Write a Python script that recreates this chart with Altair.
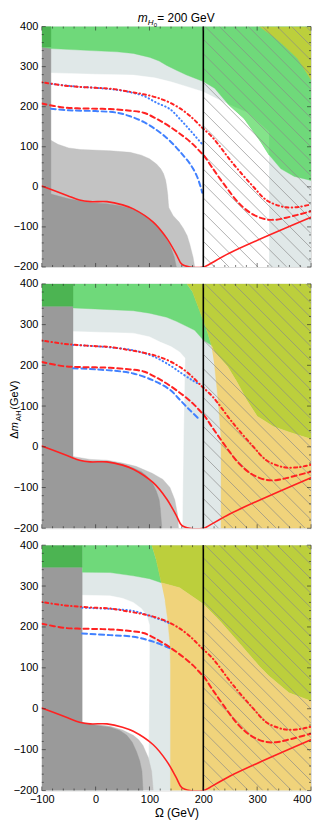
import altair as alt
import pandas as pd

# ---------------- data ----------------
X_DOMAIN = [-100, 400]
Y_DOMAIN = [-200, 400]
X_LABELS = [-100, 0, 100, 200, 300, 400]
Y_LABELS = [-200, -100, 0, 100, 200, 300, 400]

# region polygons (Omega, Delta m) per panel, painted in order
P1_LBG = [(-100, -200), (400, -200), (400, 400), (-100, 400)]
P1_WHITE = [(-100, 285), (-50, 283), (0, 281), (70, 279), (110, 272), (140, 262), (170, 250), (200, 237),
            (240, 210), (283, 185), (322, 137), (322, -200), (-100, -200)]
P1_LG = [(-100, 118), (-83, 116), (-70, 106), (-50, 97), (-28, 93), (27, 90), (64, 86), (85, 79), (100, 70),
         (113, 57), (121, 45), (126, 33), (130, 17), (132, 1), (134, -20), (135, -40), (136, -52), (144, -72),
         (155, -88), (163, -104), (170, -122), (175, -144), (181, -176), (184, -200), (-100, -200)]
P1_DG = [(-100, 349), (-83, 349), (-83, -18), (-50, -30), (-10, -40), (20, -42), (45, -47), (60, -52),
         (78, -60), (90, -70), (110, -92), (125, -115), (138, -145), (146, -175), (150, -200), (-100, -200)]
P1_GREEN = [(-100, 349), (-83, 345), (-9, 340), (40, 337), (70, 333), (101, 323), (118, 314), (132, 303),
            (150, 291), (169, 279), (200, 263), (221, 246), (245, 208), (276, 170), (307, 112), (322, 80),
            (344, 45), (369, 26), (400, 16), (400, 400), (-100, 400)]
P1_DKGREEN = [(-100, 349), (-83, 349), (-83, 400), (-100, 400)]
P1_LTGREEN = [(245, 207), (283, 185), (322, 137), (322, 80), (307, 112), (276, 170)]
P1_YGREEN = [(304, 400), (330, 375), (347, 356), (375, 320), (400, 267), (400, 400)]

P2_WHITE = [(-100, 283), (-42, 283), (70, 279), (100, 270), (120, 257), (140, 246), (156, 233), (166, 218),
            (163, 0), (161, -200), (-100, -200)]
P2_LG = [(-100, -200), (-100, 5), (-42, -24), (-10, -31), (21, -33), (50, -40), (75, -48), (105, -65),
         (125, -80), (138, -100), (147, -130), (152, -165), (154, -200)]
P2_DG = [(-100, 345), (-42, 345), (-42, -30), (-16, -36), (27, -37), (50, -43), (70, -52), (85, -61),
         (95, -72), (106, -90), (113, -110), (118, -130), (120, -151), (123, -200), (-100, -200)]
P2_DKGREEN = [(-100, 345), (-42, 345), (-42, 400), (-100, 400)]
P2_GREEN = [(-42, 400), (169, 400), (180, 380), (190, 345), (200, 310), (208, 280), (215, 249), (200, 262),
            (184, 286), (169, 296), (150, 308), (132, 318), (100, 328), (70, 334), (-42, 341)]
P2_YGREEN = [(169, 400), (400, 400), (400, 19), (360, 36), (330, 50), (300, 75), (280, 116), (262, 160),
             (245, 197), (221, 233), (215, 249), (208, 280), (200, 310), (190, 345), (180, 380)]
P2_ORANGE = [(215, 249), (221, 233), (245, 197), (262, 160), (280, 116), (300, 75), (330, 50), (360, 36),
             (400, 19), (400, -200), (233, -200), (233, 20), (229, 91), (225, 148), (221, 197)]

P3_WHITE = [(-100, 280), (27, 276), (50, 270), (70, 260), (85, 245), (95, 228), (100, 205), (100, 150),
            (98, -200), (-100, -200)]
P3_LG = [(-100, -200), (-100, 0), (-25, -36), (0, -38), (27, -43), (50, -52), (70, -65), (80, -76),
         (88, -90), (98, -120), (104, -153), (107, -200)]
P3_DG = [(-100, 346), (-25, 346), (-25, -33), (3, -41), (27, -45), (45, -53), (58, -65), (68, -82),
         (76, -105), (82, -128), (86, -153), (88, -200), (-100, -200)]
P3_DKGREEN = [(-100, 346), (-25, 346), (-25, 400), (-100, 400)]
P3_GREEN = [(-25, 400), (104, 400), (113, 361), (122, 308), (100, 318), (70, 325), (27, 333), (-25, 334)]
P3_YGREEN = [(104, 400), (400, 400), (400, 19), (359, 39), (322, 80), (304, 104), (267, 160), (230, 216),
             (200, 256), (156, 296), (122, 308), (113, 361)]
P3_ORANGE = [(122, 308), (156, 296), (200, 256), (230, 216), (267, 160), (304, 104), (322, 80), (359, 39),
             (400, 19), (400, -200), (139, -200), (139, 104), (138, 160), (134, 216), (129, 264)]

# curves
RED_DOT_X = [-100, -60, -34, 0, 27, 64, 89, 113, 138, 163, 181, 196, 200, 218, 254, 291, 317, 340, 354, 378, 400]
RED_DOT_Y = [261, 253, 250, 247, 245, 237, 231, 223, 210, 190, 170, 150, 145, 122, 60, 3, -33, -47, -51, -50, -44]
RED_DASH_X = [-100, -60, -34, 0, 27, 64, 89, 113, 138, 163, 181, 196, 200, 218, 242, 267, 291, 316, 335, 354, 400]
RED_DASH_Y = [208, 198, 196, 195, 194, 190, 185, 170, 150, 126, 106, 85, 80, 45, 0, -42, -68, -81, -82, -77, -61]
RED_SOLID_X = [-100, -80, -52, -30, -10, 21, 50, 70, 107, 132, 150, 160, 175, 200, 206, 249, 400]
RED_SOLID_Y = [2, -8, -22, -33, -37, -37, -45, -55, -88, -128, -169, -193, -200, -200, -197, -165, -76]

P1_BLUE_DOT_X = [-83, -34, 0, 40, 64, 89, 113, 138, 156, 175, 193, 197]
P1_BLUE_DOT_Y = [257, 250, 247, 242, 236, 227, 210, 194, 170, 142, 114, 108]
P1_BLUE_DASH_X = [-83, -50, 0, 40, 64, 89, 113, 132, 150, 163, 175, 187, 195, 198]
P1_BLUE_DASH_Y = [195, 191, 189, 185, 176, 162, 142, 122, 98, 78, 58, 30, 0, -15]
P2_BLUE_DOT_X = [-42, 0, 27, 70, 107, 138, 160, 180, 193]
P2_BLUE_DOT_Y = [250, 247, 244, 237, 222, 200, 180, 163, 153]
P2_BLUE_DASH_X = [-42, 0, 40, 70, 107, 138, 156, 175, 193]
P2_BLUE_DASH_Y = [193, 190, 186, 180, 163, 140, 116, 90, 67]
P3_BLUE_DOT_X = [-25, 27, 70, 107, 132, 138]
P3_BLUE_DOT_Y = [247, 244, 239, 224, 212, 208]
P3_BLUE_DASH_X = [-25, 27, 70, 107, 138]
P3_BLUE_DASH_Y = [184, 180, 176, 164, 148]

VLINE_X = [200]

# ---------------- styling ----------------
W = 271
HEIGHTS = [242, 246, 247]
FONT = "Liberation Sans"
C = dict(lbg="#e0e8e8", white="#ffffff", lg="#c3c3c3", dg="#9a9a9a", green="#6fd97a",
         dkgreen="#4cb452", ltgreen="#84e38a", ygreen="#bccf3c", orange="#f0d37b")
RED = "#ff2222"
BLUE = "#4181ff"


def xenc(**kw):
    return alt.X("x:Q", scale=alt.Scale(domain=X_DOMAIN, nice=False, zero=False), title=None, **kw)


def yenc():
    return alt.Y("y:Q", scale=alt.Scale(domain=Y_DOMAIN, nice=False, zero=False), title=None,
                 axis=alt.Axis(values=Y_LABELS, ticks=False, domain=False, grid=False, labelFont=FONT,
                               labelFontSize=11, labelColor="black", labelPadding=4, format="d"))


def xaxis(show):
    if show:
        return alt.Axis(values=X_LABELS, ticks=False, domain=False, grid=False, labelFont=FONT,
                        labelFontSize=11, labelColor="black", labelPadding=3, format="d",
                        labelAlign=alt.condition("datum.value == 400", alt.value("right"), alt.value("center")),
                        title="Ω (GeV)", titleFont=FONT, titleFontSize=12, titleFontWeight="normal",
                        titleColor="black", titlePadding=3)
    return None


def poly(pts, color, show):
    df = pd.DataFrame({"x": [p[0] for p in pts], "y": [p[1] for p in pts], "o": list(range(len(pts)))})
    return alt.Chart(df).mark_line(filled=True, fill=color, stroke=color, strokeWidth=0.4, clip=True).encode(
        x=xenc(axis=xaxis(show)), y=yenc(), order=alt.Order("o:Q"))


def curve(xs, ys, color, dash, width, show):
    df = pd.DataFrame({"x": xs, "y": ys, "o": list(range(len(xs)))})
    kw = dict(color=color, strokeWidth=width, clip=True, strokeCap="round", interpolate="catmull-rom")
    if dash:
        kw["strokeDash"] = dash
    return alt.Chart(df).mark_line(**kw).encode(x=xenc(axis=xaxis(show)), y=yenc(), order=alt.Order("o:Q"))


def hatch(h, show):
    # diagonal 45-degree (in pixels) hatch lines over Omega > 200
    k = (600.0 / h) / (500.0 / W)
    step = 26.8
    rows = []
    c = 230.0
    while c - step > 200 - 600.0 / k:
        c -= step
    while c < 400:
        if c >= 200:
            x1, y1 = c, 400.0
        else:
            x1, y1 = 200.0, 400.0 - k * (200.0 - c)
        xe = c + 600.0 / k
        if xe <= 400:
            x2, y2 = xe, -200.0
        else:
            x2, y2 = 400.0, 400.0 - k * (400.0 - c)
        rows.append(dict(x=x1, y=y1, x2=x2, y2=y2))
        c += step
    df = pd.DataFrame(rows)
    return alt.Chart(df).mark_rule(color="#8a8a8a", strokeWidth=0.75, opacity=0.9, clip=True).encode(
        x=xenc(axis=xaxis(show)), y=yenc(), x2="x2:Q", y2="y2:Q")


def frame_ticks(h, show):
    xs_major = X_LABELS
    xs_minor = [v for v in range(-100, 401, 20) if v not in X_LABELS]
    ys_major = Y_LABELS
    ys_minor = [v for v in range(-200, 401, 20) if v not in Y_LABELS]
    out = []
    for vals, ln in ((xs_major, 4), (xs_minor, 2)):
        d = pd.DataFrame({"x": vals})
        out.append(alt.Chart(d).mark_rule(color="#222", strokeWidth=0.6).encode(
            x=xenc(axis=xaxis(show)), y=alt.value(h), y2=alt.value(h - ln)))
        out.append(alt.Chart(d).mark_rule(color="#222", strokeWidth=0.6).encode(
            x=xenc(axis=xaxis(show)), y=alt.value(0), y2=alt.value(ln)))
    for vals, ln in ((ys_major, 4), (ys_minor, 2)):
        d = pd.DataFrame({"y": vals})
        out.append(alt.Chart(d).mark_rule(color="#222", strokeWidth=0.6).encode(
            y=yenc(), x=alt.value(0), x2=alt.value(ln)))
        out.append(alt.Chart(d).mark_rule(color="#222", strokeWidth=0.6).encode(
            y=yenc(), x=alt.value(W), x2=alt.value(W - ln)))
    return out


def vline(show):
    d = pd.DataFrame({"x": VLINE_X})
    return alt.Chart(d).mark_rule(color="black", strokeWidth=1.6).encode(x=xenc(axis=xaxis(show)))


def text_piece(txt, x, y, size, angle=0, style="normal"):
    d = pd.DataFrame({"t": [txt]})
    kw = dict(font=FONT, fontSize=size, align="left", baseline="alphabetic", color="black", fontStyle=style)
    if angle:
        kw["angle"] = angle
    return alt.Chart(d).mark_text(**kw).encode(text="t:N", x=alt.value(x), y=alt.value(y))


def panel(idx, polys, blue_dot, blue_dash, show_x):
    h = HEIGHTS[idx]
    layers = [poly(p, col, show_x) for p, col in polys]
    layers.append(hatch(h, show_x))
    layers.append(curve(RED_SOLID_X, RED_SOLID_Y, RED, None, 1.6, show_x))
    layers.append(curve(blue_dash[0], blue_dash[1], BLUE, [5, 3.5], 2.0, show_x))
    layers.append(curve(blue_dot[0], blue_dot[1], BLUE, [0.5, 3.2], 2.0, show_x))
    layers.append(curve(RED_DASH_X, RED_DASH_Y, RED, [5, 3.5], 2.0, show_x))
    layers.append(curve(RED_DOT_X, RED_DOT_Y, RED, [0.5, 3.2, 3, 3.2], 2.0, show_x))
    layers.append(vline(show_x))
    layers += frame_ticks(h, show_x)
    if idx == 0:
        x0 = 96.5
        layers += [text_piece("m", x0, -5, 12, style="italic"),
                   text_piece("H", x0 + 10.2, -2, 8, style="italic"),
                   text_piece("0", x0 + 16.2, 0, 6),
                   text_piece(" = 200 GeV", x0 + 19.8, -5, 12)]
    if idx == 1:
        y0 = 156
        xb = -24
        layers += [text_piece("Δ", xb, y0, 11, angle=270),
                   text_piece("m", xb, y0 - 7.6, 11, angle=270, style="italic"),
                   text_piece("AH", xb + 3, y0 - 17.6, 8, angle=270),
                   text_piece(" (GeV)", xb, y0 - 29.4, 11, angle=270)]
    return alt.layer(*layers).properties(width=W, height=h)


p1 = panel(0, [(P1_LBG, C["lbg"]), (P1_WHITE, C["white"]), (P1_LG, C["lg"]), (P1_DG, C["dg"]),
               (P1_GREEN, C["green"]), (P1_LTGREEN, C["ltgreen"]), (P1_DKGREEN, C["dkgreen"]),
               (P1_YGREEN, C["ygreen"])],
           (P1_BLUE_DOT_X, P1_BLUE_DOT_Y), (P1_BLUE_DASH_X, P1_BLUE_DASH_Y), False)
p2 = panel(1, [(P1_LBG, C["lbg"]), (P2_WHITE, C["white"]), (P2_LG, C["lg"]), (P2_DG, C["dg"]),
               (P2_GREEN, C["green"]), (P2_DKGREEN, C["dkgreen"]), (P2_YGREEN, C["ygreen"]),
               (P2_ORANGE, C["orange"])],
           (P2_BLUE_DOT_X, P2_BLUE_DOT_Y), (P2_BLUE_DASH_X, P2_BLUE_DASH_Y), False)
p3 = panel(2, [(P1_LBG, C["lbg"]), (P3_WHITE, C["white"]), (P3_LG, C["lg"]), (P3_DG, C["dg"]),
               (P3_GREEN, C["green"]), (P3_DKGREEN, C["dkgreen"]), (P3_YGREEN, C["ygreen"]),
               (P3_ORANGE, C["orange"])],
           (P3_BLUE_DOT_X, P3_BLUE_DOT_Y), (P3_BLUE_DASH_X, P3_BLUE_DASH_Y), True)

chart = alt.vconcat(p1, p2, p3, spacing=17, bounds="flush").properties(
    padding={"left": 0, "top": 0, "right": 0, "bottom": 0}
).configure_view(stroke="black", strokeWidth=1).configure(background="white")

chart.save("out.html", embed_options={"renderer": "svg", "actions": False})
